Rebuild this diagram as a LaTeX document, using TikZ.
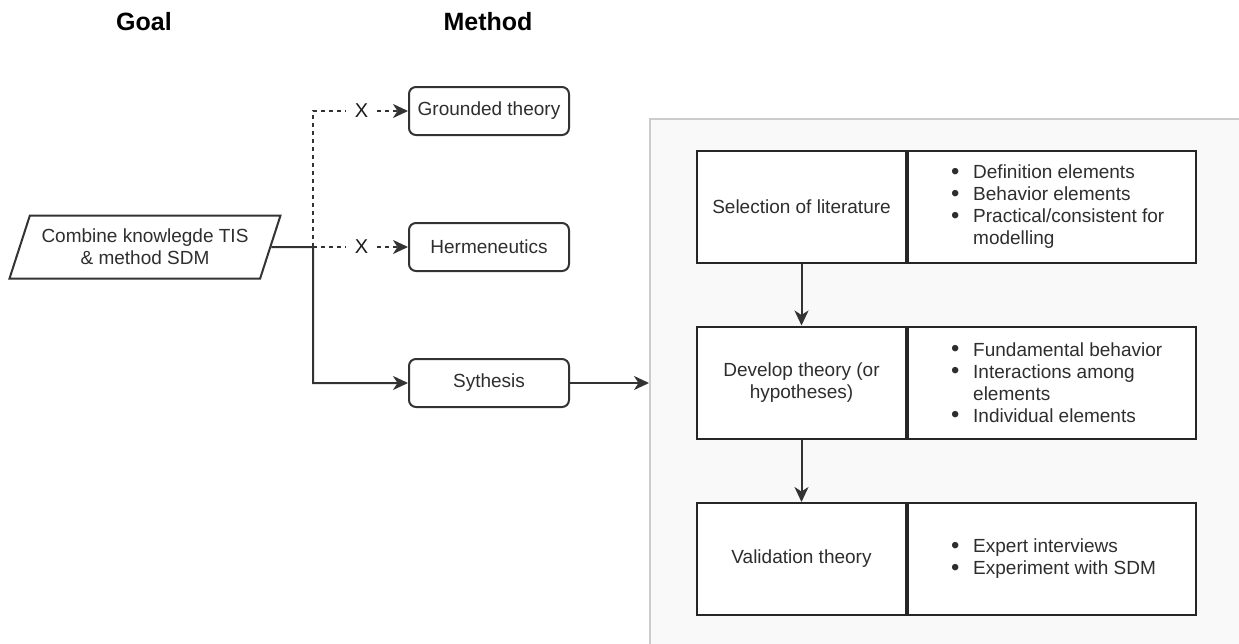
\documentclass[tikz,border=0pt]{standalone}
\usepackage{fontspec}
\setmainfont{Liberation Sans}
\usetikzlibrary{arrows.meta,shapes.geometric}

% bullet entry with a hanging indent of 22pt
\newcommand\bitem[1]{\makebox[22pt][l]{\raisebox{-0.5pt}{\scalebox{1.25}{•}}}#1}
\newcommand\bcont[1]{\hspace*{22pt}#1}

\begin{document}
\begin{tikzpicture}[x=1pt,y=-1pt,
  every node/.style={font=\fontsize{19}{22}\selectfont, text=black!82},
  ln/.style={draw=black!80, line width=2pt},
  arr/.style={ln, -{Stealth[length=15pt,width=14pt,inset=4.5pt]}},
  dsh/.style={dash pattern=on 4pt off 4pt},
  title/.style={font=\fontsize{25}{30}\selectfont\bfseries, text=black},
  method/.style={draw=black!80, line width=2pt, rounded corners=7pt,
    minimum width=160pt, minimum height=48pt, fill=white, inner sep=0pt},
  goalbox/.style={trapezium, trapezium left angle=63, trapezium right angle=117,
    trapezium stretches=true, draw=black!80, line width=2pt,
    minimum width=272pt, minimum height=63pt, align=center, inner sep=0pt},
  xmark/.style={inner xsep=9pt, inner ysep=2pt, font=\fontsize{20}{22}\selectfont, text=black!90},
  panel/.style={fill=black!2.5, draw=black!20, line width=2pt,
    minimum width=620pt, minimum height=560pt, anchor=north west},
  cell/.style={draw=black!85, line width=2pt, fill=white, minimum height=112pt,
    align=center, inner sep=0pt},
  listtxt/.style={align=left, inner sep=0pt, anchor=west},
]
\useasboundingbox (0,0) rectangle (1239,643);

% grey frame holding the three research steps
\node[panel] (panel) at (649,118) {};

% column headings
\node[title] (goalT) at (144,22) {Goal};
\node[title] (methodT) at (488,22) {Method};

% goal
\node[goalbox] (goal) at (145,247) {Combine knowlegde TIS\\\& method SDM};

% candidate methods
\node[method] (gt) at (489,111) {Grounded theory};
\node[method] (hm) at (489,247) {Hermeneutics};
\node[method] (sy) at (489,383) {Sythesis};

\coordinate (j) at (313,247);
\node[xmark] (x1) at (361.5,111) {X};
\node[xmark] (x2) at (361.5,247) {X};

% connectors from the goal to the methods
\draw[arr] (goal.east) -- (j) |- (sy.west);
\draw[ln,dsh] (j) |- (x1.west);
\draw[arr,dsh] (x1.east) -- (gt.west);
\draw[ln,dsh] (j) -- (x2.west);
\draw[arr,dsh] (x2.east) -- (hm.west);

% synthesis leads into the framework
\draw[arr] (sy.east) -- (sy.east -| panel.west);

% step 1
\node[cell, minimum width=209pt] (s1) at (801.5,207) {Selection of literature};
\node[cell, minimum width=288pt, anchor=west] (d1) at (s1.east) {};
\node[listtxt] (l1) at (951,207) {\bitem{Definition elements}\\
  \bitem{Behavior elements}\\
  \bitem{Practical/consistent for}\\
  \bcont{modelling}};

% step 2
\node[cell, minimum width=209pt] (s2) at (801.5,382.5) {Develop theory (or\\hypotheses)};
\node[cell, minimum width=288pt, anchor=west] (d2) at (s2.east) {};
\node[listtxt] (l2) at (951,382.5) {\bitem{Fundamental behavior}\\
  \bitem{Interactions among}\\
  \bcont{elements}\\
  \bitem{Individual elements}};

% step 3
\node[cell, minimum width=209pt] (s3) at (801.5,559) {Validation theory};
\node[cell, minimum width=288pt, anchor=west] (d3) at (s3.east) {};
\node[listtxt] (l3) at (951,559) {\bitem{Expert interviews}\\
  \bitem{Experiment with SDM}};

\draw[arr] (s1.south) -- (s2.north);
\draw[arr] (s2.south) -- (s3.north);
\end{tikzpicture}
\end{document}
